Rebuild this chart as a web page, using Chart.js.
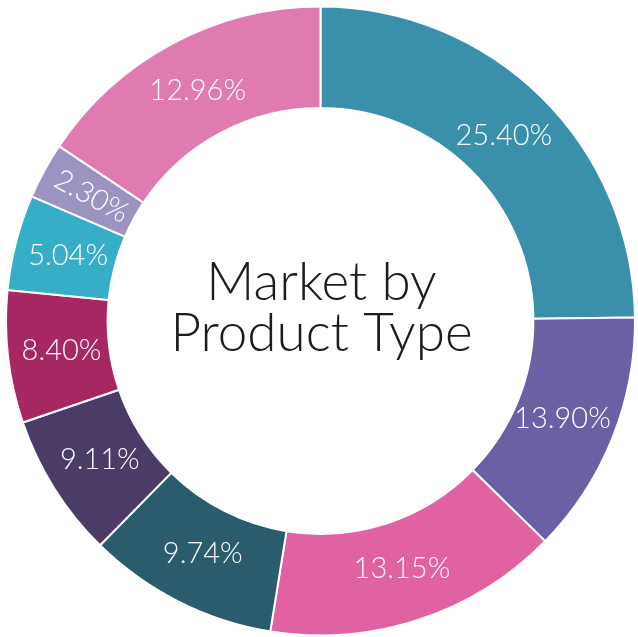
<!DOCTYPE html>
<html>
<head>
<meta charset="utf-8">
<title>Market by Product Type</title>
<script src="https://cdn.jsdelivr.net/npm/chart.js@4.4.0/dist/chart.umd.min.js"></script>
<style>
  html, body { margin: 0; padding: 0; background: #ffffff; }
  #wrap { width: 638px; height: 637px; }
</style>
</head>
<body>
<div id="wrap"><canvas id="productTypeChart" width="638" height="637"></canvas></div>
<script>
  // product type segments, clockwise from 12 o'clock
  const segments = ['Type 1', 'Type 2', 'Type 3', 'Type 4', 'Type 5', 'Type 6', 'Type 7', 'Type 8', 'Type 9'];
  // printed shares (text on the slices)
  const shareLabels = ['25.40%', '13.90%', '13.15%', '9.74%', '9.11%', '8.40%', '5.04%', '2.30%', '12.96%'];
  // slice sizes as drawn in the picture (the artwork does not follow the printed shares exactly)
  const arcShares = [24.8, 12.5, 15.2, 9.8, 7.4, 6.8, 4.9, 2.9, 15.6];
  const sliceColors = ['#3A90AA', '#6A60A3', '#E062A2', '#2A5C6E', '#4A3C66', '#A72763', '#37AEC8', '#9C93C0', '#E07BB1'];
  const titleLines = ['Market by', 'Product Type'];

  const FONT = "Lato, 'Open Sans', 'DejaVu Sans', sans-serif";

  // percent text in the middle of every ring slice
  const sliceLabels = {
    id: 'sliceLabels',
    afterDatasetsDraw(chart) {
      const c = chart.ctx;
      const arcs = chart.getDatasetMeta(0).data;
      c.save();
      c.fillStyle = '#ffffff';
      c.textAlign = 'center';
      c.textBaseline = 'middle';
      c.font = '300 29px ' + FONT;
      arcs.forEach((arc, i) => {
        const p = arc.getProps(['x', 'y', 'startAngle', 'endAngle', 'innerRadius', 'outerRadius'], true);
        const mid = (p.startAngle + p.endAngle) / 2;
        const r = (p.innerRadius + p.outerRadius) / 2 - 3;
        const x = p.x + Math.cos(mid) * r;
        const y = p.y + Math.sin(mid) * r;
        c.save();
        c.translate(x, y);
        // thin slices get their label turned along the radius
        if (p.endAngle - p.startAngle < 0.25) c.rotate(mid - Math.PI);
        c.fillText(shareLabels[i], 0, 0);
        c.restore();
      });
      c.restore();
    }
  };

  const centerTitle = {
    id: 'centerTitle',
    afterDraw(chart) {
      const c = chart.ctx;
      const arc = chart.getDatasetMeta(0).data[0];
      c.save();
      c.fillStyle = '#1d1b1b';
      c.textAlign = 'center';
      c.textBaseline = 'alphabetic';
      c.font = '300 53px ' + FONT;
      c.fillText(titleLines[0], arc.x + 1, 300);
      c.fillText(titleLines[1], arc.x + 1, 351);
      c.restore();
    }
  };

  const ctx = document.getElementById('productTypeChart').getContext('2d');
  const productTypeChart = new Chart(ctx, {
    type: 'doughnut',
    data: {
      labels: segments,
      datasets: [{
        label: 'Market share',
        data: arcShares,
        backgroundColor: sliceColors,
        borderColor: '#ffffff',
        borderWidth: 2
      }]
    },
    options: {
      responsive: false,
      animation: false,
      cutout: '67.7%',
      layout: {
        padding: { left: 5, right: 2, top: 5.5, bottom: 0.5 }
      },
      events: [],
      plugins: {
        legend: { display: false },
        tooltip: { enabled: false },
        title: { display: false }
      }
    },
    plugins: [sliceLabels, centerTitle]
  });
</script>
</body>
</html>
